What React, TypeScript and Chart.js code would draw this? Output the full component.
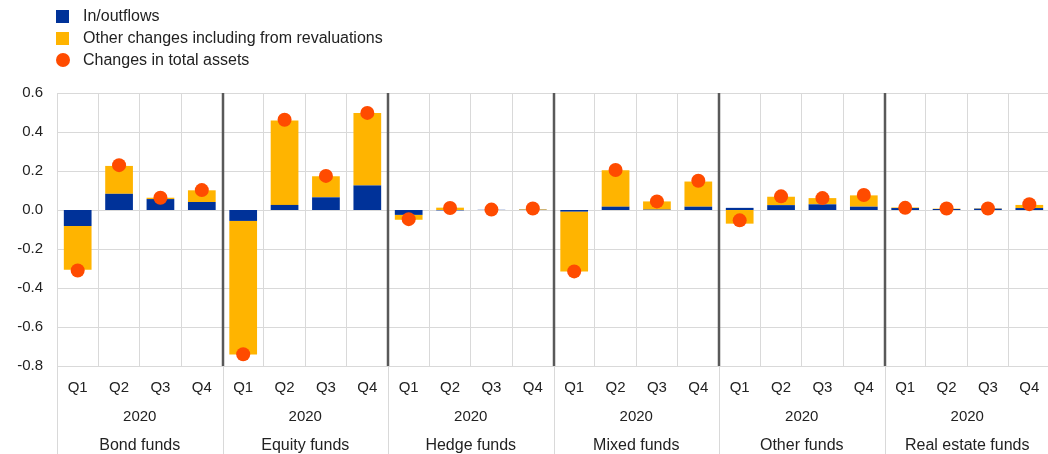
import React, { useEffect, useRef } from "react";
import { Chart, registerables } from "chart.js";

Chart.register(...registerables);

const groups = ["Bond funds", "Equity funds", "Hedge funds", "Mixed funds", "Other funds", "Real estate funds"];
const quarters = ["Q1", "Q2", "Q3", "Q4"];
const year = "2020";

const inflows = [
  -0.082, 0.083, 0.056, 0.041,
  -0.056, 0.026, 0.065, 0.126,
  -0.025, -0.002, 0.001, 0.001,
  -0.008, 0.017, 0.002, 0.017,
  0.011, 0.025, 0.029, 0.017,
  0.010, 0.005, 0.007, 0.010,
];
const otherChanges = [
  -0.224, 0.143, 0.007, 0.060,
  -0.685, 0.433, 0.108, 0.371,
  -0.025, 0.012, 0.000, 0.003,
  -0.307, 0.187, 0.042, 0.129,
  -0.070, 0.043, 0.032, 0.058,
  0.003, 0.002, 0.002, 0.016,
];
const totalAssets = [
  -0.31, 0.23, 0.063, 0.102,
  -0.74, 0.463, 0.175, 0.498,
  -0.047, 0.01, 0.002, 0.008,
  -0.315, 0.205, 0.044, 0.15,
  -0.053, 0.07, 0.061, 0.077,
  0.011, 0.008, 0.008, 0.03,
];

const seriesNames = ["In/outflows", "Other changes including from revaluations", "Changes in total assets"];
const BLUE = "#003299";
const ORANGE = "#FFB400";
const RED = "#FF4B00";
const FONT = "'Liberation Sans', Arial, sans-serif";
const TEXT = "#222222";

const labels = groups.flatMap(() => quarters);

const groupPlugin = {
  id: "groupPlugin",
  beforeDatasetsDraw(chart: any) {
    const { ctx, chartArea, scales } = chart;
    const x = scales.x;
    ctx.save();
    ctx.strokeStyle = "#595959";
    ctx.lineWidth = 2.5;
    for (let g = 1; g < groups.length; g++) {
      const px = Math.round(x.getPixelForValue(g * 4 - 0.5));
      ctx.beginPath();
      ctx.moveTo(px, chartArea.top);
      ctx.lineTo(px, chartArea.bottom);
      ctx.stroke();
    }
    ctx.restore();
  },
  afterDraw(chart: any) {
    const { ctx, chartArea, scales } = chart;
    const x = scales.x;
    ctx.save();
    ctx.strokeStyle = "#d9d9d9";
    ctx.lineWidth = 1;
    for (let g = 0; g <= groups.length; g++) {
      const px = Math.round(x.getPixelForValue(g * 4 - 0.5)) + 0.5;
      ctx.beginPath();
      ctx.moveTo(px, chartArea.bottom);
      ctx.lineTo(px, chart.height);
      ctx.stroke();
    }
    ctx.fillStyle = TEXT;
    ctx.textAlign = "center";
    ctx.textBaseline = "middle";
    groups.forEach((name, g) => {
      const cx = x.getPixelForValue(g * 4 + 1.5);
      ctx.font = `15px ${FONT}`;
      ctx.fillText(year, cx, 416.5);
      ctx.font = `16px ${FONT}`;
      ctx.fillText(name, cx, 445.5);
    });
    ctx.restore();
  },
};

export default function App() {
  const ref = useRef<HTMLCanvasElement>(null);
  useEffect(() => {
    if (!ref.current) return;
    const chart = new Chart(ref.current, {
      type: "bar",
      data: {
        labels,
        datasets: [
          {
            type: "line",
            label: seriesNames[2],
            data: totalAssets,
            showLine: false,
            pointRadius: 7,
            pointHoverRadius: 7,
            pointBackgroundColor: RED,
            pointBorderColor: RED,
            pointBorderWidth: 0,
            backgroundColor: RED,
            borderColor: RED,
            stack: "dots",
            order: 0,
          } as any,
          {
            type: "bar",
            label: seriesNames[0],
            data: inflows,
            backgroundColor: BLUE,
            stack: "bars",
            barPercentage: 0.67,
            categoryPercentage: 1,
            order: 1,
          },
          {
            type: "bar",
            label: seriesNames[1],
            data: otherChanges,
            backgroundColor: ORANGE,
            stack: "bars",
            barPercentage: 0.67,
            categoryPercentage: 1,
            order: 1,
          },
        ],
      },
      options: {
        animation: false,
        responsive: false,
        devicePixelRatio: 1,
        layout: { padding: { top: 93, right: 1, left: 0, bottom: 0 } },
        plugins: { legend: { display: false }, tooltip: { enabled: false } },
        scales: {
          x: {
            stacked: true,
            offset: true,
            grid: { color: "#d9d9d9", drawTicks: false, offset: true },
            border: { color: "#d9d9d9" },
            ticks: {
              autoSkip: false,
              maxRotation: 0,
              padding: 13,
              color: TEXT,
              font: { family: FONT, size: 15 },
            },
            afterFit(scale: any) {
              scale.height = 88;
            },
          },
          y: {
            stacked: true,
            min: -0.8,
            max: 0.6,
            grid: { color: "#d9d9d9", drawTicks: false },
            border: { color: "#d9d9d9" },
            ticks: {
              stepSize: 0.2,
              padding: 14,
              color: TEXT,
              font: { family: FONT, size: 15 },
              callback: (v: any) => {
                const n = Number(v);
                return (Math.abs(n) < 1e-9 ? 0 : n).toFixed(1);
              },
            },
            afterFit(scale: any) {
              scale.width = 57;
            },
          },
        },
      },
      plugins: [groupPlugin],
    });
    return () => chart.destroy();
  }, []);

  const legendItems = [
    { name: seriesNames[0], color: BLUE, round: false, y: 16 },
    { name: seriesNames[1], color: ORANGE, round: false, y: 38 },
    { name: seriesNames[2], color: RED, round: true, y: 60 },
  ];

  return (
    <div style={{ position: "absolute", left: 0, top: 0, width: 1048, height: 454, overflow: "hidden", background: "#fff", fontFamily: FONT }}>
      <canvas ref={ref} width={1057} height={454} style={{ position: "absolute", left: 0, top: 0 }} />
      {legendItems.map((it) => (
        <div key={it.name} style={{ position: "absolute", left: 56, top: it.y - 10, height: 20, display: "flex", alignItems: "center" }}>
          <span
            style={{
              display: "inline-block",
              width: it.round ? 14 : 13,
              height: it.round ? 14 : 13,
              borderRadius: it.round ? "50%" : 0,
              background: it.color,
            }}
          />
          <span style={{ marginLeft: it.round ? 13 : 14, fontSize: 16, color: TEXT, whiteSpace: "nowrap" }}>{it.name}</span>
        </div>
      ))}
    </div>
  );
}
